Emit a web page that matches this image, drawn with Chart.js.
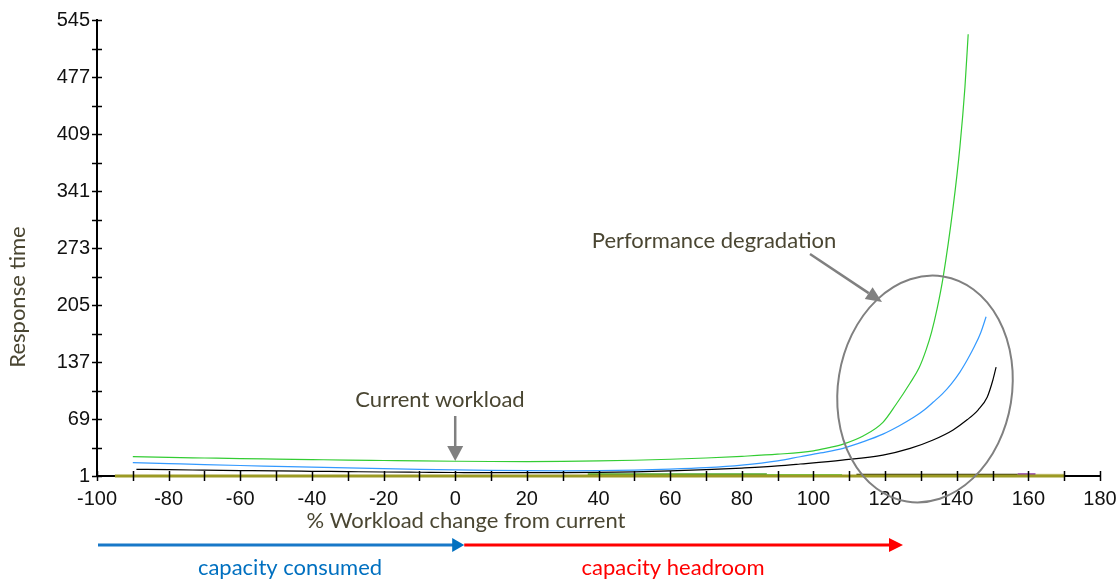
<!DOCTYPE html>
<html>
<head>
<meta charset="utf-8">
<script src="https://cdn.jsdelivr.net/npm/chart.js@4.4.1/dist/chart.umd.min.js"></script>
<style>
html,body{margin:0;padding:0;background:#fff;}
#wrap{width:1120px;height:579px;position:relative;}
</style>
</head>
<body>
<div id="wrap"><canvas id="c" width="1120" height="579"></canvas></div>
<script>
// ---- data ----
const yTickLabels = [1, 69, 137, 205, 273, 341, 409, 477, 545];

const greenX = [-90,-80,-70,-60,-50,-40,-30,-20,-10,0,10,20,30,40,50,60,70,80,90,100,104,108.3,114,119.4,123,127,129.5,131.5,133,134.5,136.2,139,140.9,142.3,143.2];
const greenY = [24,23.2,22.5,21.8,21.2,20.6,20,19.5,19,18.6,18.3,18.2,18.4,19,19.8,21,22.5,24.5,27,31,34.5,39,49,65,86,112,130,152,173,200,238,322,394,465,528];

const blueX = [-90,-80,-70,-60,-50,-40,-30,-20,-10,0,10,20,30,40,50,60,70,80,90,96.3,102,108.3,114,119.4,124,128,131,133.4,136,138.5,140.9,143,145,146.7,148.2];
const blueY = [17,15.8,14.6,13.5,12.5,11.5,10.6,9.8,9,8.3,7.7,7.3,7.2,7.4,8,9.2,11,14,19,24,28.5,34,42,51,61,71,80,89,99,111,125,140,156,172,191];

const blackX = [-89,-80,-70,-60,-50,-40,-30,-20,-10,0,10,20,30,40,50,60,70,80,90,96.3,108,119.4,127,133.4,139,142.9,146,148.5,150.1,151];
const blackY = [9,8.5,8,7.5,7,6.6,6.2,5.8,5.5,5.2,5,5,5.1,5.4,6,7,8.5,10.5,13,15.3,20,26,34,44,56,68,80,95,115.5,131];

// short series lying along the floor of the chart
const oliveX = [-95, 170];      const oliveY = [1, 1];
const greenBarX = [37, 87];     const greenBarY = [2.5, 2.5];
const greenThinX = [87, 108];   const greenThinY = [2.5, 2.5];
const darkBarX = [112, 157];    const darkBarY = [2.5, 2.5];
const purpleX = [157, 162];     const purpleY = [2.5, 2.5];
const beigeX = [162, 170];      const beigeY = [2.5, 2.5];

const xMin = -100, xMax = 180, xStep = 20;
const yMin = 1, yMax = 545;

function pts(xs, ys){ return xs.map((x,i)=>({x:x, y:ys[i]})); }

const TEXT = '#4a4632';
const UIFONT = 'Lato, "Open Sans", sans-serif';

function ds(xs, ys, color, width, extra){
  return Object.assign({
    data: pts(xs, ys), borderColor: color, borderWidth: width,
    pointRadius: 0, fill: false, clip: false,
    cubicInterpolationMode: 'monotone'
  }, extra || {});
}

const ticksAndNotes = {
  id: 'ticksAndNotes',
  afterDraw(chart){
    const ctx = chart.ctx;
    const xs = chart.scales.x, ys = chart.scales.y;
    const a = chart.chartArea;
    ctx.save();
    // tick marks crossing the axes (major + minor)
    ctx.strokeStyle = '#000'; ctx.lineWidth = 1.5;
    for (let v = xMin; v <= xMax; v += xStep/2){
      const p = Math.round(xs.getPixelForValue(v)) + 0.5;
      ctx.beginPath(); ctx.moveTo(p, a.bottom - 5); ctx.lineTo(p, a.bottom + 5); ctx.stroke();
    }
    for (let i = 0; i < yTickLabels.length; i++){
      const vals = [yTickLabels[i]];
      if (i < yTickLabels.length - 1) vals.push((yTickLabels[i] + yTickLabels[i+1]) / 2);
      vals.forEach(v=>{
        const p = Math.round(ys.getPixelForValue(v)) + 0.5;
        ctx.beginPath(); ctx.moveTo(a.left - 5, p); ctx.lineTo(a.left + 5, p); ctx.stroke();
      });
    }

    // axis titles
    ctx.fillStyle = TEXT;
    ctx.font = '22px ' + UIFONT;
    ctx.textAlign = 'center'; ctx.textBaseline = 'middle';
    ctx.fillText('% Workload change from current', 466, 521);
    ctx.save();
    ctx.translate(18, 297); ctx.rotate(-Math.PI/2);
    ctx.fillText('Response time', 0, 0);
    ctx.restore();

    // "Current workload" annotation
    const x0 = xs.getPixelForValue(0);
    ctx.fillText('Current workload', 440, 400);
    ctx.strokeStyle = '#808080'; ctx.fillStyle = '#808080'; ctx.lineWidth = 2.5;
    ctx.beginPath(); ctx.moveTo(x0, 416); ctx.lineTo(x0, 447); ctx.stroke();
    ctx.beginPath(); ctx.moveTo(x0 - 8, 446); ctx.lineTo(x0 + 8, 446); ctx.lineTo(x0, 461); ctx.closePath(); ctx.fill();

    // "Performance degradation" annotation
    ctx.fillStyle = TEXT;
    ctx.fillText('Performance degradation', 714, 241);
    ctx.strokeStyle = '#808080'; ctx.fillStyle = '#808080'; ctx.lineWidth = 2.5;
    const ax0 = 810, ay0 = 254, ax1 = 882, ay1 = 302;
    const ang = Math.atan2(ay1 - ay0, ax1 - ax0);
    const hl = 16, hw = 7;
    const bx = ax1 - hl*Math.cos(ang), by = ay1 - hl*Math.sin(ang);
    ctx.beginPath(); ctx.moveTo(ax0, ay0); ctx.lineTo(bx, by); ctx.stroke();
    ctx.beginPath();
    ctx.moveTo(ax1, ay1);
    ctx.lineTo(bx + hw*Math.sin(ang), by - hw*Math.cos(ang));
    ctx.lineTo(bx - hw*Math.sin(ang), by + hw*Math.cos(ang));
    ctx.closePath(); ctx.fill();

    // ellipse
    ctx.lineWidth = 2;
    ctx.beginPath(); ctx.ellipse(925, 389, 87, 114, 0.16, 0, Math.PI*2); ctx.stroke();

    // bottom arrows
    const mid = x0;
    ctx.lineWidth = 3;
    ctx.strokeStyle = '#1878c8'; ctx.fillStyle = '#0070c0';
    ctx.beginPath(); ctx.moveTo(98, 545); ctx.lineTo(mid, 545); ctx.stroke();
    ctx.beginPath(); ctx.moveTo(mid - 3, 538); ctx.lineTo(mid + 9, 545); ctx.lineTo(mid - 3, 552); ctx.closePath(); ctx.fill();
    ctx.strokeStyle = '#ff0000'; ctx.fillStyle = '#ff0000';
    ctx.beginPath(); ctx.moveTo(mid + 9, 545); ctx.lineTo(892, 545); ctx.stroke();
    ctx.beginPath(); ctx.moveTo(889, 538); ctx.lineTo(903, 545); ctx.lineTo(889, 552); ctx.closePath(); ctx.fill();

    ctx.font = '22px ' + UIFONT;
    ctx.fillStyle = '#0070c0';
    ctx.fillText('capacity consumed', 290, 568);
    ctx.fillStyle = '#ff0000';
    ctx.fillText('capacity headroom', 673, 568);
    ctx.restore();
  }
};

new Chart(document.getElementById('c'), {
  type: 'line',
  data: {
    datasets: [
      ds(oliveX, oliveY, '#9c9a24', 3),
      ds(greenBarX, greenBarY, '#4ea82c', 3),
      ds(greenThinX, greenThinY, '#66dd55', 1.5),
      ds(darkBarX, darkBarY, '#2e2e08', 2),
      ds(purpleX, purpleY, '#8a3aa0', 3),
      ds(beigeX, beigeY, '#d8d4a0', 2),
      ds(blackX, blackY, '#000000', 1.2),
      ds(blueX, blueY, '#3399ff', 1.2),
      ds(greenX, greenY, '#33cc33', 1.2)
    ]
  },
  options: {
    responsive: false,
    animation: false,
    devicePixelRatio: 1,
    layout: { padding: { left: 0, right: 20, top: 20, bottom: 0 } },
    plugins: { legend: { display: false }, tooltip: { enabled: false } },
    scales: {
      x: {
        type: 'linear', min: xMin, max: xMax,
        grid: { display: false, drawTicks: false },
        border: { display: true, color: '#000', width: 2 },
        ticks: { stepSize: xStep, padding: 11, color: '#111', maxRotation: 0,
                 font: { family: '"Liberation Sans", Arial, sans-serif', size: 20 } },
        afterFit(s){ s.height = 103; s.paddingLeft = 0; s.paddingRight = 0; }
      },
      y: {
        type: 'linear', min: yMin, max: yMax,
        grid: { display: false, drawTicks: false },
        border: { display: true, color: '#000', width: 2 },
        ticks: { padding: 7, color: '#111',
                 font: { family: '"Liberation Sans", Arial, sans-serif', size: 20 } },
        afterBuildTicks(s){ s.ticks = yTickLabels.map(v=>({value: v})); },
        afterFit(s){ s.width = 97; s.paddingTop = 0; s.paddingBottom = 0; }
      }
    }
  },
  plugins: [ticksAndNotes]
});
</script>
</body>
</html>
